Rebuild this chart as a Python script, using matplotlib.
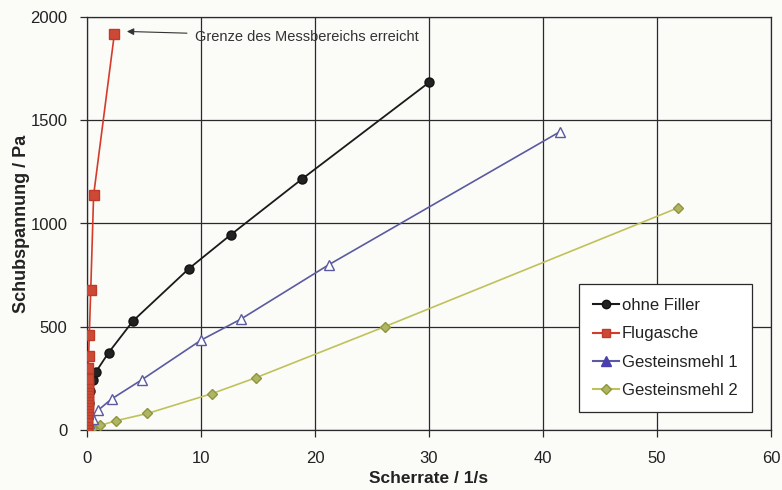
import numpy as np
import matplotlib.pyplot as plt
from matplotlib.lines import Line2D

plt.rcParams['font.family'] = ['Liberation Sans', 'DejaVu Sans']

# ohne Filler
x_ohne = [0.0, 0.05, 0.15, 0.3, 0.5, 0.8, 1.9, 4.05, 8.95, 12.6, 18.85, 30.0]
y_ohne = [0, 60, 130, 190, 240, 283, 375, 529, 782, 945, 1215, 1683]

# Flugasche
x_flug = [0.0, 0.01, 0.015, 0.02, 0.03, 0.035, 0.04, 0.045, 0.05, 0.055, 0.06,
          0.065, 0.07, 0.075, 0.08, 0.085, 0.09, 0.1, 0.12, 0.14, 0.2, 0.33,
          0.58, 2.4]
y_flug = [0, 10, 20, 35, 50, 65, 80, 95, 110, 125, 140, 155, 170, 185, 200, 215,
          230, 245, 302, 358, 458, 680, 1137, 1918]

# Gesteinsmehl 1
x_gm1 = [0.0, 0.05, 0.1, 0.2, 0.55, 1.0, 2.15, 4.8, 10.0, 13.5, 21.2, 41.5]
y_gm1 = [0, 10, 20, 35, 55, 97, 150, 243, 435, 537, 800, 1445]

# Gesteinsmehl 2
x_gm2 = [0.0, 0.1, 0.2, 0.45, 1.15, 2.55, 5.3, 10.95, 14.85, 26.1, 51.8]
y_gm2 = [0, 2, 5, 11, 22, 45, 80, 176, 254, 500, 1075]

labels = ['ohne Filler', 'Flugasche', 'Gesteinsmehl 1', 'Gesteinsmehl 2']

bg = '#fbfbf8'
fig = plt.figure(figsize=(7.82, 4.9), dpi=100, facecolor=bg)
ax = fig.add_axes([87 / 782, 1 - 430 / 490, (771 - 87) / 782, (430 - 17) / 490])
ax.set_facecolor(bg)

# Linien + Marker
ax.plot(x_gm2, y_gm2, color='#bfc25a', lw=1.2, marker='D', ms=5.5,
        mfc='#b0b560', mec='#8e9540', zorder=3)
ax.plot(x_gm1, y_gm1, color='#5a5aa0', lw=1.2, marker='^', ms=7.5,
        mfc='white', mec='#5a5aa0', zorder=4)
ax.plot(x_ohne, y_ohne, color='#1a1a1a', lw=1.3, marker='o', ms=6.5,
        mfc='#222222', mec='#111111', zorder=5)
ax.plot(x_flug, y_flug, color='#d63b2a', lw=1.2, marker='s', ms=6.5,
        mfc='#cc4a35', mec='#c03a28', zorder=6)

ax.set_xlim(0, 60)
ax.set_ylim(0, 2000)
ax.set_xticks(np.arange(0, 61, 10))
ax.set_yticks(np.arange(0, 2001, 500))
ax.grid(True, color='#2a2a2a', lw=0.9)
ax.set_axisbelow(True)
for s in ax.spines.values():
    s.set_color('#2a2a2a')
    s.set_linewidth(0.9)
ax.tick_params(direction='out', length=5, width=0.9, color='#2a2a2a',
               labelsize=12, labelcolor='#222222')
ax.tick_params(axis='x', pad=10)
ax.tick_params(axis='y', pad=9)

ax.set_xlabel('Scherrate / 1/s', fontsize=12.5, fontweight='bold', color='#222222', labelpad=4)
ax.set_ylabel('Schubspannung / Pa', fontsize=13, fontweight='bold', color='#222222', labelpad=0)

ax.annotate('Grenze des Messbereichs erreicht', xy=(3.5, 1930), xytext=(9.5, 1905),
            fontsize=10.5, color='#333333', va='center',
            arrowprops=dict(arrowstyle='-|>', color='#333333', lw=0.8,
                            mutation_scale=10, shrinkA=4, shrinkB=0))

handles = [
    Line2D([], [], color='#1a1a1a', marker='o', ms=6, mfc='#222222', mec='#111111'),
    Line2D([], [], color='#d63b2a', marker='s', ms=6, mfc='#cc4a35', mec='#c03a28'),
    Line2D([], [], color='#5a5aa0', marker='^', ms=6.5, mfc='#4b3fb0', mec='#4b3fb0'),
    Line2D([], [], color='#bfc25a', marker='D', ms=5, mfc='#b0b560', mec='#8e9540'),
]
leg = ax.legend(handles, labels, loc='lower right', bbox_to_anchor=(0.972, 0.043),
                fontsize=12, frameon=True, fancybox=False, handlelength=1.6,
                labelspacing=0.8, borderpad=0.85, handletextpad=0.15,
                borderaxespad=0)
leg.get_frame().set_edgecolor('#2a2a2a')
leg.get_frame().set_facecolor('white')
leg.get_frame().set_alpha(1)
leg.get_frame().set_linewidth(0.9)
for t in leg.get_texts():
    t.set_color('#222222')

fig.savefig('out.png', dpi=100, facecolor=bg)
